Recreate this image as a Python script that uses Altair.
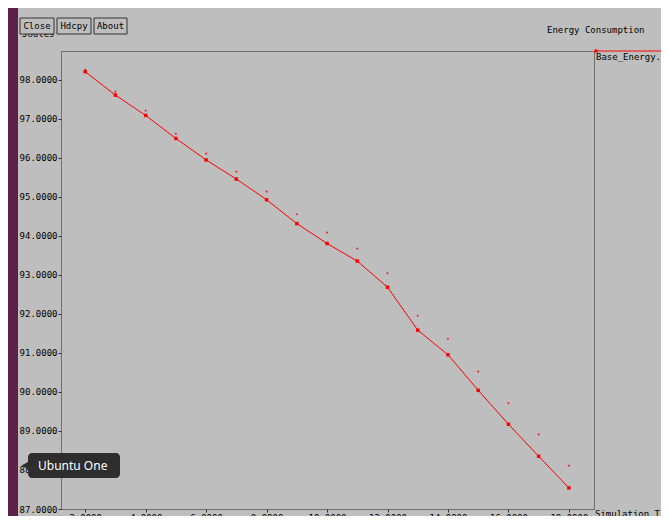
import altair as alt
import pandas as pd

# ---- data ----
sim_time = list(range(2, 19))
energy = [98.20, 97.60, 97.08, 96.49, 95.94, 95.45, 94.92, 94.31, 93.80,
          93.35, 92.68, 91.58, 90.95, 90.04, 89.17, 88.35, 87.54]
energy_marks = [98.25, 97.69, 97.20, 96.61, 96.10, 95.64, 95.13, 94.55, 94.08,
                93.67, 93.04, 91.95, 91.36, 90.52, 89.71, 88.91, 88.11]
x_ticks = [2, 4, 6, 8, 10, 12, 14, 16, 18]
y_ticks = list(range(87, 99))
series_name = "Base_Energy.xg"

df = pd.DataFrame({"t": sim_time, "e": energy, "m": energy_marks})

W, H = 533, 458
FONT = "DejaVu Sans Mono"
RED = "#ff0000"

xs = alt.Scale(domain=[1.2, 18.83], nice=False, zero=False)
ys = alt.Scale(domain=[87, 98.73], nice=False, zero=False)

base = alt.Chart(df)

line = base.mark_line(color=RED, strokeWidth=1).encode(
    x=alt.X("t:Q", scale=xs,
            axis=alt.Axis(values=x_ticks, format=".4f", title=None, grid=False,
                          domain=False, tickSize=3, tickColor="#333",
                          labelFont=FONT, labelFontSize=9, labelColor="#000",
                          labelPadding=1, labelBaseline="top")),
    y=alt.Y("e:Q", scale=ys,
            axis=alt.Axis(values=y_ticks, format=".4f", title=None, grid=False,
                          domain=False, tickSize=3, tickColor="#333",
                          labelFont=FONT, labelFontSize=9, labelColor="#000",
                          labelPadding=1)),
)
pts = base.mark_point(shape="square", filled=True, size=12, color=RED, opacity=1).encode(
    x=alt.X("t:Q", scale=xs), y=alt.Y("e:Q", scale=ys))
marks = base.mark_point(shape="diamond", filled=True, size=7, color=RED, opacity=0.75).encode(
    x=alt.X("t:Q", scale=xs), y=alt.Y("m:Q", scale=ys))


def one():
    return alt.Chart(pd.DataFrame({"k": [0]}))


def rect(x1, y1, x2, y2, fill, stroke=None, radius=0, sw=1):
    kw = dict(fill=fill, cornerRadius=radius)
    if stroke:
        kw.update(stroke=stroke, strokeWidth=sw)
    return one().mark_rect(**kw).encode(
        x=alt.value(x1), x2=alt.value(x2), y=alt.value(y1), y2=alt.value(y2))


def text(s, x, y, align="left", baseline="middle", size=9, color="#000", font=FONT):
    return alt.Chart(pd.DataFrame({"s": [s]})).mark_text(
        align=align, baseline=baseline, fontSize=size, color=color, font=font
    ).encode(x=alt.value(x), y=alt.value(y), text="s:N")


deco = [
    # launcher strip
    rect(-53, -43, -43, 465, "#5a2248"),
    # y label, partly hidden by the buttons
    text("Joules", -39, -12, baseline="bottom"),
    # buttons
    rect(-41, -33, -7, -17, "#bebebe", "#333"),
    rect(-4, -33, 30, -17, "#bebebe", "#333"),
    rect(33, -33, 66, -17, "#bebebe", "#333"),
    text("Close", -24, -25, align="center"),
    text("Hdcpy", 13, -25, align="center"),
    text("About", 49.5, -25, align="center"),
    # title
    text("Energy Consumption", 486, -21),
    # legend
    one().mark_rule(color=RED, strokeWidth=1).encode(
        x=alt.value(534), x2=alt.value(620), y=alt.value(0)),
    one().mark_point(shape="square", filled=True, size=10, color=RED, opacity=1).encode(
        x=alt.value(535), y=alt.value(0)),
    text(series_name, 535, 6),
    # x title
    text("Simulation Time", 534, H + 1, baseline="top"),
    # tooltip overlay
    rect(-33, 402, 59, 427, "#2e2e2e", radius=4),
    one().mark_point(shape="triangle-left", filled=True, size=60, color="#2e2e2e", opacity=1).encode(
        x=alt.value(-36), y=alt.value(414.5)),
    text("Ubuntu One", -23, 414.5, size=12, color="#ffffff", font="Noto Sans"),
]

chart = alt.layer(line, pts, marks, *deco).properties(
    width=W, height=H,
    autosize=alt.AutoSizeParams(type="none"),
    padding={"left": 53, "top": 43, "right": 67, "bottom": 7},
    background="#bebebe",
).configure_view(stroke="#222", strokeDash=[1, 1], strokeWidth=1)

chart.save("out.html", embed_options={"renderer": "svg", "actions": False})
